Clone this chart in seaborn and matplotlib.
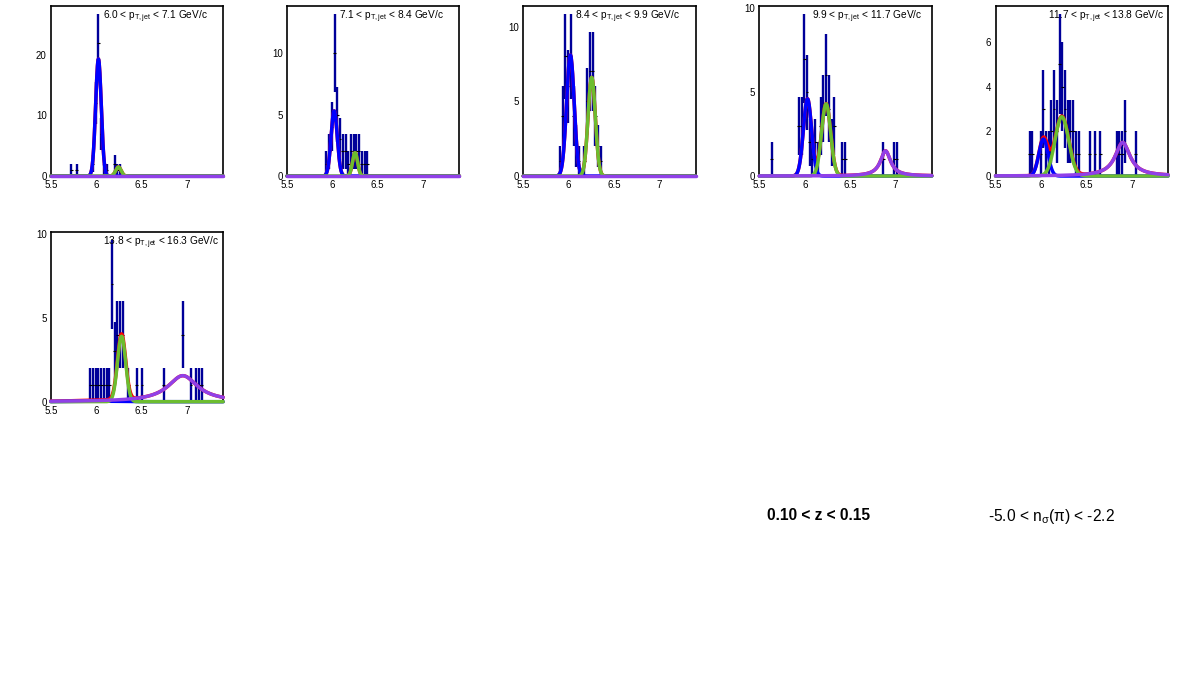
import numpy as np
import pandas as pd
import matplotlib
matplotlib.use("Agg")
import matplotlib.pyplot as plt
import seaborn as sns
from matplotlib.ticker import MultipleLocator, FixedLocator

# ── data ─────────────────────────────────────────────────────────────────────

BIN_W = 0.03
X_MIN, X_MAX = 5.5, 7.4

PT_LO = ["6.0", "7.1", "8.4", "9.9", "11.7", "13.8"]
PT_HI = ["7.1", "8.4", "9.9", "11.7", "13.8", "16.3"]

# bin centres and counts (non-empty bins only)
X1 = [5.725, 5.785, 5.965, 5.995, 6.025, 6.055, 6.085, 6.115, 6.205, 6.235, 6.265]
N1 = [1, 1, 2, 12, 22, 7, 1, 1, 2, 1, 1]

X2 = [5.935, 5.965, 5.995, 6.025, 6.055, 6.085, 6.115, 6.145, 6.175, 6.205,
      6.235, 6.265, 6.295, 6.325, 6.355, 6.385]
N2 = [1, 2, 4, 10, 5, 3, 2, 2, 1, 2, 2, 2, 2, 1, 1, 1]

X3 = [5.905, 5.935, 5.965, 5.995, 6.025, 6.055, 6.085, 6.115, 6.175, 6.205,
      6.235, 6.265, 6.295, 6.325, 6.355]
N3 = [1, 4, 8, 6, 8, 4, 2, 1, 1, 5, 7, 7, 4, 2, 1]

X4 = [5.635, 5.935, 5.965, 5.995, 6.025, 6.055, 6.085, 6.115, 6.145, 6.175,
      6.205, 6.235, 6.265, 6.295, 6.325, 6.415, 6.445, 6.865, 6.985, 7.015]
N4 = [1, 3, 3, 7, 5, 2, 1, 2, 1, 3, 4, 6, 4, 2, 3, 1, 1, 1, 1, 1]

X5 = [5.875, 5.905, 5.995, 6.025, 6.055, 6.085, 6.115, 6.145, 6.175, 6.205,
      6.235, 6.265, 6.295, 6.325, 6.355, 6.385, 6.415, 6.535, 6.595, 6.655,
      6.835, 6.865, 6.895, 6.925, 7.045]
N5 = [1, 1, 1, 3, 1, 1, 2, 3, 2, 5, 4, 3, 2, 2, 2, 1, 1, 1, 1, 1, 1, 1, 1, 2, 1]

X6 = [5.935, 5.965, 5.995, 6.025, 6.055, 6.085, 6.115, 6.145, 6.175, 6.205,
      6.235, 6.265, 6.295, 6.355, 6.445, 6.505, 6.745, 6.955, 7.045, 7.105,
      7.135, 7.165]
N6 = [1, 1, 1, 1, 1, 1, 1, 1, 7, 3, 4, 4, 4, 1, 1, 1, 1, 4, 1, 1, 1, 1]

BIN_X = [X1, X2, X3, X4, X5, X6]
COUNTS = [N1, N2, N3, N4, N5, N6]

# fit components: (amplitude, mean, width)
BLUE_FIT = [(19.3, 6.025, 0.031), (5.3, 6.02, 0.034), (8.1, 6.02, 0.042),
            (4.6, 6.03, 0.045), (1.65, 6.027, 0.050), (0.03, 6.0, 0.25)]
GREEN_FIT = [(1.5, 6.245, 0.030), (1.9, 6.25, 0.028), (6.6, 6.255, 0.040),
             (4.3, 6.235, 0.050), (2.65, 6.23, 0.075), (3.9, 6.28, 0.045)]
# Breit-Wigner: (amplitude, mean, half width)
PURPLE_FIT = [(0.0, 6.9, 0.07), (0.0, 6.9, 0.07), (0.0, 6.9, 0.07),
              (1.5, 6.89, 0.068), (1.5, 6.90, 0.10), (1.55, 6.955, 0.20)]

Y_MAJOR = [10, 5, 5, 5, 2, 5]
Y_MINOR = [2, 1, 1, 1, 0.5, 1]

COLORS = {"total": "#ff0000", "k": "#0000ff", "p": "#6cbd2f", "x": "#9040e8"}
ERR_COL = "#000099"


def gaus(x, a, m, s):
    return a * np.exp(-0.5 * ((x - m) / s) ** 2)


def bw(x, a, m, g):
    return a / (1 + ((x - m) / g) ** 2)


# ── figure ───────────────────────────────────────────────────────────────────

sns.set_style("white")
plt.rcParams["font.family"] = ["Liberation Sans", "DejaVu Sans"]
plt.rcParams["mathtext.fontset"] = "custom"
plt.rcParams["mathtext.rm"] = "Liberation Sans"
plt.rcParams["mathtext.it"] = "Liberation Sans:italic"
plt.rcParams["mathtext.bf"] = "Liberation Sans:bold"
for key in ["text.color", "axes.labelcolor", "xtick.color", "ytick.color"]:
    plt.rcParams[key] = "black"

fig = plt.figure(figsize=(11.81, 6.77), dpi=100)

pad_w, pad_h = 1 / 5, 1 / 3
xs = np.linspace(X_MIN, X_MAX, 500)

for i in range(6):
    col, row = i % 5, i // 5
    ax = fig.add_axes([col * pad_w + 0.215 * pad_w,
                       1 - (row + 1) * pad_h + 0.22 * pad_h,
                       0.73 * pad_w, 0.753 * pad_h])

    bx = np.array(BIN_X[i])
    n = np.array(COUNTS[i], dtype=float)
    err = np.sqrt(n)

    # histogram with errors
    ax.errorbar(bx, n, yerr=err, fmt="none", ecolor=ERR_COL, elinewidth=1.7, zorder=2)
    ax.errorbar(bx, n, xerr=BIN_W / 2, fmt="none", ecolor="black", elinewidth=0.8, zorder=2)

    # fit curves
    b = gaus(xs, *BLUE_FIT[i])
    g = gaus(xs, *GREEN_FIT[i])
    p = bw(xs, *PURPLE_FIT[i])
    curves = pd.DataFrame({
        "x": np.tile(xs, 4),
        "y": np.concatenate([b + g + p, b, g, p]),
        "comp": np.repeat(["total", "k", "p", "x"], len(xs)),
    })
    sns.lineplot(data=curves, x="x", y="y", hue="comp",
                 hue_order=["total", "k", "p", "x"], palette=COLORS,
                 linewidth=2.5, legend=False, errorbar=None, ax=ax,
                 clip_on=False, zorder=3)

    ymax = 1.05 * np.max(n + err)
    ax.set_xlim(X_MIN, X_MAX)
    ax.set_ylim(0, ymax)
    ax.set_xlabel("")
    ax.set_ylabel("")

    ax.xaxis.set_major_locator(FixedLocator([5.5, 6.0, 6.5, 7.0]))
    ax.set_xticklabels(["5.5", "6", "6.5", "7"])
    ax.xaxis.set_minor_locator(MultipleLocator(0.1))
    ax.yaxis.set_major_locator(MultipleLocator(Y_MAJOR[i]))
    ax.yaxis.set_minor_locator(MultipleLocator(Y_MINOR[i]))
    ax.tick_params(which="both", direction="in", top=False, right=False,
                   labelsize=7, width=0.8, pad=3, colors="black")
    ax.tick_params(which="major", length=4)
    ax.tick_params(which="minor", length=2)
    for sp in ax.spines.values():
        sp.set_linewidth(1.2)
        sp.set_color("black")

    ax.text(0.303, 0.935,
            f"{PT_LO[i]} < p$_{{\\mathrm{{T,jet}}}}$ < {PT_HI[i]} GeV/c",
            transform=ax.transAxes, ha="left", va="center", fontsize=7.3)

fig.text(767 / 1181, 1 - 516 / 677, "0.10 < z < 0.15", ha="left", va="center",
         fontsize=11.2, fontweight="bold")
fig.text(988 / 1181, 1 - 516 / 677, "-5.0 < n$_{\\mathrm{σ}}$(π) < -2.2",
         ha="left", va="center", fontsize=11.2)

fig.savefig("out.png", dpi=100)
